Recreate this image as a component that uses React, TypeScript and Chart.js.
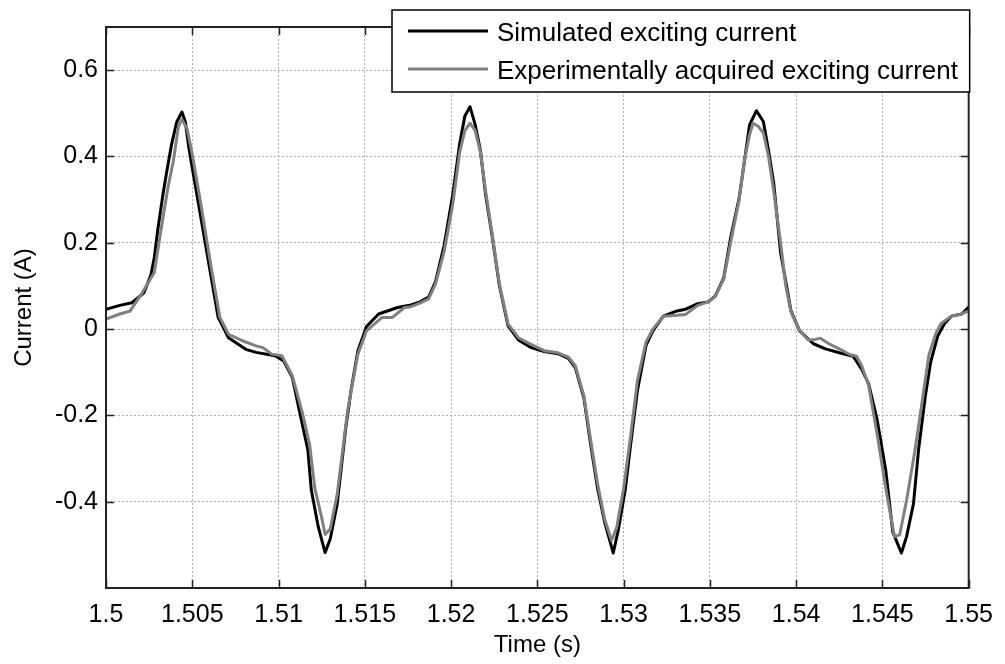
import React, { useEffect, useRef } from "react";
import { Chart, registerables } from "chart.js";

Chart.register(...registerables);

// Simulated exciting current (black)
const timeSim = [
  1.5, 1.5008, 1.5015, 1.5022, 1.5026, 1.5028, 1.503, 1.5033, 1.5035, 1.5038,
  1.5041, 1.5044, 1.5046, 1.5048, 1.5051, 1.5054, 1.506, 1.5065, 1.5071, 1.5081,
  1.5087, 1.5098, 1.5103, 1.5108, 1.5112, 1.5117, 1.5119, 1.5123, 1.5127, 1.513,
  1.5134, 1.5139, 1.5142, 1.5146, 1.5151, 1.5158, 1.5169, 1.5176, 1.5182, 1.5187,
  1.5191, 1.5196, 1.5201, 1.5205, 1.5208, 1.5211, 1.5214, 1.5217, 1.522, 1.5224,
  1.5228, 1.5233, 1.5239, 1.5246, 1.5254, 1.5262, 1.5268, 1.5272, 1.5277, 1.5281,
  1.5285, 1.5289, 1.5294, 1.5297, 1.5301, 1.5304, 1.5308, 1.5313, 1.5317, 1.5323,
  1.5331, 1.5336, 1.5343, 1.5349, 1.5353, 1.5358, 1.5362, 1.5367, 1.537, 1.5373,
  1.5377, 1.5381, 1.5384, 1.5387, 1.5391, 1.5394, 1.5397, 1.5402, 1.541, 1.5417,
  1.5425, 1.5433, 1.5438, 1.5442, 1.5447, 1.5452, 1.5456, 1.5461, 1.5464, 1.5468,
  1.5471, 1.5475, 1.5478, 1.5482, 1.5486, 1.549, 1.5496, 1.55,
];
const currentSim = [
  0.046, 0.055, 0.061, 0.084, 0.125, 0.166, 0.23, 0.312, 0.36, 0.428,
  0.48, 0.503, 0.48, 0.42, 0.35, 0.281, 0.142, 0.027, -0.02, -0.047,
  -0.054, -0.062, -0.074, -0.112, -0.188, -0.28, -0.373, -0.458, -0.518, -0.486,
  -0.405, -0.228, -0.143, -0.05, 0.006, 0.035, 0.05, 0.055, 0.063, 0.074,
  0.11, 0.194, 0.312, 0.43, 0.494, 0.515, 0.473, 0.414, 0.312, 0.211,
  0.101, 0.008, -0.025, -0.042, -0.052, -0.057, -0.068, -0.089, -0.16, -0.27,
  -0.371, -0.447, -0.519, -0.464, -0.371, -0.27, -0.143, -0.038, -0.004, 0.03,
  0.042, 0.046, 0.059, 0.063, 0.076, 0.118, 0.211, 0.304, 0.388, 0.473,
  0.506, 0.481, 0.414, 0.338, 0.177, 0.11, 0.042, -0.004, -0.034, -0.046,
  -0.055, -0.063, -0.093, -0.127, -0.211, -0.329, -0.47, -0.519, -0.481, -0.405,
  -0.278, -0.152, -0.076, -0.017, 0.013, 0.03, 0.035, 0.051,
];

// Experimentally acquired exciting current (grey)
const timeExp = [
  1.5, 1.5008, 1.5014, 1.5021, 1.5028, 1.5033, 1.5036, 1.5039, 1.5042, 1.5044,
  1.5047, 1.505, 1.5055, 1.5061, 1.5066, 1.5071, 1.5079, 1.5087, 1.5091, 1.5096,
  1.5102, 1.5108, 1.5114, 1.5118, 1.5121, 1.5125, 1.5127, 1.513, 1.5134, 1.514,
  1.5146, 1.5151, 1.516, 1.5166, 1.5173, 1.5176, 1.5182, 1.5187, 1.5191, 1.5196,
  1.5201, 1.5205, 1.5208, 1.5211, 1.5214, 1.5217, 1.522, 1.5224, 1.5228, 1.5233,
  1.5239, 1.5246, 1.5254, 1.5262, 1.5268, 1.5272, 1.5277, 1.5281, 1.5285, 1.5289,
  1.5293, 1.5296, 1.53, 1.5304, 1.5308, 1.5313, 1.5317, 1.5323, 1.5331, 1.5336,
  1.5343, 1.5349, 1.5353, 1.5358, 1.5362, 1.5367, 1.537, 1.5373, 1.5375, 1.5378,
  1.5381, 1.5384, 1.5387, 1.5391, 1.5394, 1.5397, 1.5402, 1.5407, 1.541, 1.5414,
  1.5419, 1.5425, 1.5431, 1.5435, 1.5438, 1.5442, 1.5447, 1.5452, 1.5457, 1.546,
  1.5464, 1.5469, 1.5473, 1.5477, 1.5481, 1.5484, 1.549, 1.5495, 1.55,
];
const currentExp = [
  0.023, 0.035, 0.042, 0.084, 0.131, 0.258, 0.33, 0.389, 0.47, 0.486,
  0.464, 0.405, 0.289, 0.142, 0.027, -0.012, -0.027, -0.039, -0.043, -0.058,
  -0.062, -0.108, -0.197, -0.267, -0.368, -0.437, -0.476, -0.463, -0.383, -0.19,
  -0.058, -0.004, 0.027, 0.027, 0.05, 0.051, 0.06, 0.07, 0.105, 0.18,
  0.29, 0.41, 0.46, 0.477, 0.46, 0.41, 0.32, 0.215, 0.105, 0.012,
  -0.02, -0.035, -0.05, -0.055, -0.065, -0.085, -0.155, -0.26, -0.36, -0.44,
  -0.49, -0.46, -0.37, -0.25, -0.12, -0.03, 0.0, 0.03, 0.032, 0.034,
  0.055, 0.063, 0.075, 0.115, 0.2, 0.3, 0.39, 0.45, 0.477, 0.47,
  0.455, 0.4, 0.32, 0.2, 0.1, 0.04, -0.004, -0.025, -0.025, -0.021,
  -0.034, -0.046, -0.059, -0.063, -0.085, -0.13, -0.245, -0.37, -0.481, -0.477,
  -0.397, -0.278, -0.169, -0.059, -0.01, 0.013, 0.03, 0.034, 0.042,
];

const xTicks = [1.5, 1.505, 1.51, 1.515, 1.52, 1.525, 1.53, 1.535, 1.54, 1.545, 1.55];
const yTicks = [-0.4, -0.2, 0, 0.2, 0.4, 0.6];
const seriesLabels = ["Simulated exciting current", "Experimentally acquired exciting current"];
const seriesColors = ["#000000", "#808080"];

const FONT = "'Liberation Sans', Arial, Helvetica, sans-serif";
const AXIS_COLOR = "#222222";

const framePlugin = {
  id: "matlabFrame",
  afterDatasetsDraw(chart: any) {
    const { ctx, chartArea } = chart;
    const { left, right, top, bottom } = chartArea;
    const xs = chart.scales.x;
    const ys = chart.scales.y;
    const tl = 8;
    ctx.save();
    ctx.strokeStyle = AXIS_COLOR;
    ctx.lineWidth = 1.5;
    ctx.beginPath();
    xTicks.forEach((v) => {
      const px = Math.round(xs.getPixelForValue(v)) + 0.5;
      ctx.moveTo(px, bottom);
      ctx.lineTo(px, bottom - tl);
      ctx.moveTo(px, top);
      ctx.lineTo(px, top + tl);
    });
    yTicks.forEach((v) => {
      const py = Math.round(ys.getPixelForValue(v)) + 0.5;
      ctx.moveTo(left, py);
      ctx.lineTo(left + tl, py);
      ctx.moveTo(right, py);
      ctx.lineTo(right - tl, py);
    });
    ctx.stroke();
    ctx.lineWidth = 2;
    ctx.strokeRect(left, top, right - left, bottom - top);
    ctx.restore();
  },
  afterDraw(chart: any) {
    const { ctx, chartArea } = chart;
    const boxRight = chartArea.right + 1;
    const boxLeft = 392;
    const boxTop = 10;
    const boxBottom = 92;
    ctx.save();
    ctx.fillStyle = "#ffffff";
    ctx.fillRect(boxLeft, boxTop, boxRight - boxLeft, boxBottom - boxTop);
    ctx.strokeStyle = "#000000";
    ctx.lineWidth = 1.5;
    ctx.strokeRect(boxLeft, boxTop, boxRight - boxLeft, boxBottom - boxTop);
    const rows = [31, 69];
    ctx.font = `26px ${FONT}`;
    ctx.textBaseline = "middle";
    ctx.textAlign = "left";
    seriesLabels.forEach((label, i) => {
      const y = rows[i];
      ctx.strokeStyle = seriesColors[i];
      ctx.lineWidth = 3;
      ctx.beginPath();
      ctx.moveTo(408, y);
      ctx.lineTo(488, y);
      ctx.stroke();
      ctx.fillStyle = "#000000";
      ctx.fillText(label, 497, y + 3);
    });
    ctx.restore();
  },
};

export default function App() {
  const canvasRef = useRef<HTMLCanvasElement | null>(null);

  useEffect(() => {
    const canvas = canvasRef.current;
    if (!canvas) return;
    const chart = new Chart(canvas, {
      type: "line",
      data: {
        datasets: [
          {
            label: seriesLabels[0],
            data: timeSim.map((t, i) => ({ x: t, y: currentSim[i] })),
            borderColor: seriesColors[0],
            borderWidth: 3,
            pointRadius: 0,
            tension: 0,
            borderJoinStyle: "round",
            order: 2,
          },
          {
            label: seriesLabels[1],
            data: timeExp.map((t, i) => ({ x: t, y: currentExp[i] })),
            borderColor: seriesColors[1],
            borderWidth: 3,
            pointRadius: 0,
            tension: 0,
            borderJoinStyle: "round",
            order: 1,
          },
        ],
      },
      options: {
        animation: false,
        responsive: false,
        maintainAspectRatio: false,
        events: [],
        layout: { autoPadding: false, padding: { left: 0, top: 27, right: 31, bottom: 0 } },
        plugins: { legend: { display: false }, tooltip: { enabled: false } },
        scales: {
          x: {
            type: "linear",
            min: 1.5,
            max: 1.55,
            afterBuildTicks: (s: any) => {
              s.ticks = xTicks.map((v) => ({ value: v }));
            },
            afterFit: (s: any) => {
              s.height = 76;
            },
            ticks: {
              autoSkip: false,
              maxRotation: 0,
              padding: 12,
              color: "#000000",
              font: { family: FONT, size: 25 },
              callback: (v: any) => String(Number(Number(v).toFixed(3))),
            },
            grid: { color: "#b0b0b0", lineWidth: 1, drawTicks: false },
            border: { display: false, dash: [2, 2] },
            title: {
              display: true,
              text: "Time (s)",
              color: "#000000",
              font: { family: FONT, size: 24 },
              padding: { top: 0, bottom: 4 },
            },
          },
          y: {
            type: "linear",
            min: -0.6,
            max: 0.7,
            afterBuildTicks: (s: any) => {
              s.ticks = yTicks.map((v) => ({ value: v }));
            },
            afterFit: (s: any) => {
              s.width = 106;
            },
            ticks: {
              padding: 8,
              color: "#000000",
              font: { family: FONT, size: 25 },
              callback: (v: any) => String(Number(Number(v).toFixed(1))),
            },
            grid: { color: "#b0b0b0", lineWidth: 1, drawTicks: false },
            border: { display: false, dash: [2, 2] },
            title: {
              display: true,
              text: "Current (A)",
              color: "#000000",
              font: { family: FONT, size: 24 },
              padding: { top: 10, bottom: 0 },
            },
          },
        },
      },
      plugins: [framePlugin],
    });
    return () => chart.destroy();
  }, []);

  return (
    <div style={{ position: "absolute", left: 0, top: 0, width: 1005, height: 664, background: "#ffffff" }}>
      <canvas ref={canvasRef} width={1005} height={664} style={{ width: 1005, height: 664, display: "block" }} />
    </div>
  );
}
